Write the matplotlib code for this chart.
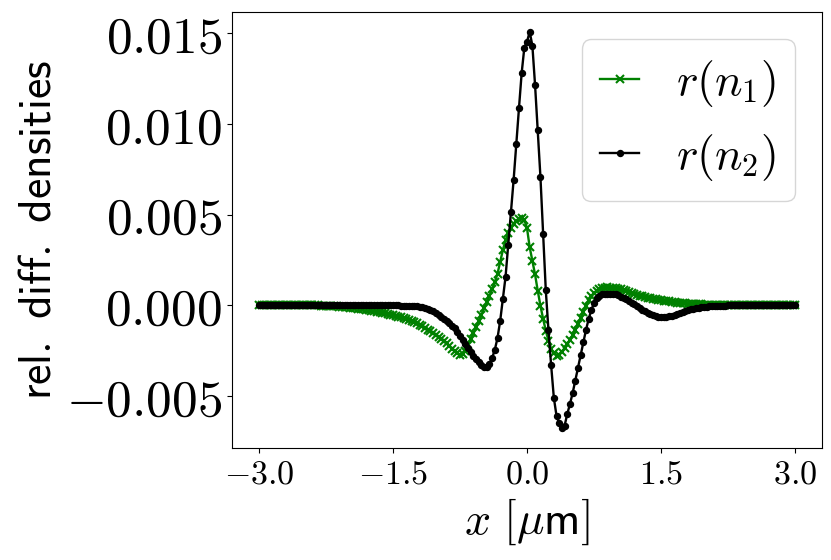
import numpy as np
import matplotlib
matplotlib.use("Agg")
import matplotlib.pyplot as plt
from matplotlib.ticker import FuncFormatter

plt.rcParams["mathtext.fontset"] = "cm"

# sample grid: 201 equally spaced points, -3 µm .. 3 µm (step 0.03 µm)
x_um = np.linspace(-3.0, 3.0, 201)

# relative density differences, in units of 1e-3
r_n1_milli = [
    0.00, 0.00, 0.00, 0.00, 0.00, 0.00, 0.00, 0.00, 0.00, 0.00,
    0.00, 0.00, 0.00, 0.00, 0.00, 0.00, 0.00, 0.00, 0.00, 0.00,
    -0.01, -0.01, -0.01, -0.02, -0.02, -0.03, -0.04, -0.05, -0.05, -0.06,
    -0.07, -0.08, -0.10, -0.11, -0.13, -0.14, -0.16, -0.18, -0.20, -0.22,
    -0.25, -0.27, -0.30, -0.32, -0.35, -0.38, -0.41, -0.44, -0.48, -0.51,
    -0.55, -0.58, -0.62, -0.66, -0.71, -0.76, -0.81, -0.87, -0.93, -1.00,
    -1.08, -1.16, -1.25, -1.34, -1.43, -1.53, -1.63, -1.74, -1.85, -1.97,
    -2.10, -2.24, -2.39, -2.53, -2.64, -2.72, -2.68, -2.50, -2.20, -1.88,
    -1.55, -1.22, -0.88, -0.52, -0.17, 0.18, 0.52, 0.88, 1.28, 1.75,
    2.40, 3.05, 3.60, 3.98, 4.28, 4.50, 4.66, 4.77, 4.84, 4.72,
    4.25, 3.20, 2.45, 1.70, 0.80, -0.02, -0.75, -1.40, -1.95, -2.40,
    -2.65, -2.78, -2.72, -2.58, -2.36, -2.16, -1.92, -1.66, -1.38, -1.05,
    -0.70, -0.36, -0.03, 0.27, 0.50, 0.68, 0.81, 0.90, 0.95, 0.98,
    0.99, 0.98, 0.96, 0.94, 0.91, 0.88, 0.84, 0.79, 0.74, 0.69,
    0.64, 0.59, 0.54, 0.50, 0.46, 0.42, 0.39, 0.36, 0.33, 0.30,
    0.28, 0.25, 0.23, 0.21, 0.19, 0.17, 0.15, 0.13, 0.12, 0.10,
    0.09, 0.08, 0.07, 0.06, 0.05, 0.05, 0.04, 0.04, 0.03, 0.03,
    0.03, 0.02, 0.02, 0.02, 0.02, 0.01, 0.01, 0.01, 0.01, 0.01,
    0.01, 0.01, 0.01, 0.01, 0.00, 0.00, 0.00, 0.00, 0.00, 0.00,
    0.00, 0.00, 0.00, 0.00, 0.00, 0.00, 0.00, 0.00, 0.00, 0.00,
    0.00,
]

r_n2_milli = [
    0.00, 0.00, 0.00, 0.00, 0.00, 0.00, 0.00, 0.00, 0.00, 0.00,
    0.00, 0.00, 0.00, 0.00, 0.00, 0.00, 0.00, 0.00, 0.00, 0.00,
    0.00, 0.00, 0.00, 0.00, 0.00, 0.00, 0.00, 0.00, 0.00, 0.00,
    0.00, 0.00, 0.00, 0.00, 0.00, 0.00, 0.00, 0.00, 0.00, 0.00,
    0.00, 0.00, 0.00, 0.00, 0.00, 0.00, 0.00, 0.00, -0.01, -0.01,
    -0.01, -0.01, -0.01, -0.02, -0.02, -0.03, -0.03, -0.04, -0.05, -0.06,
    -0.07, -0.10, -0.14, -0.19, -0.26, -0.34, -0.43, -0.52, -0.62, -0.74,
    -0.86, -0.98, -1.12, -1.28, -1.47, -1.67, -1.90, -2.12, -2.35, -2.57,
    -2.77, -2.97, -3.15, -3.32, -3.43, -3.42, -3.25, -2.90, -2.45, -1.80,
    -0.85, 0.37, 1.58, 3.35, 5.17, 6.91, 8.91, 10.88, 12.81, 14.22,
    14.55, 15.09, 14.32, 12.15, 9.67, 7.09, 3.94, 0.83, -1.39, -3.32,
    -5.10, -6.10, -6.52, -6.78, -6.65, -6.00, -5.45, -4.85, -4.15, -3.45,
    -2.75, -2.05, -1.35, -0.75, -0.25, 0.12, 0.38, 0.53, 0.60, 0.63,
    0.65, 0.65, 0.63, 0.60, 0.55, 0.48, 0.40, 0.32, 0.23, 0.14,
    0.05, -0.04, -0.14, -0.24, -0.33, -0.41, -0.48, -0.54, -0.59, -0.62,
    -0.64, -0.64, -0.63, -0.61, -0.57, -0.52, -0.47, -0.42, -0.37, -0.32,
    -0.27, -0.23, -0.19, -0.16, -0.13, -0.11, -0.09, -0.07, -0.06, -0.05,
    -0.04, -0.03, -0.03, -0.02, -0.02, -0.01, -0.01, -0.01, -0.01, -0.01,
    0.00, 0.00, 0.00, 0.00, 0.00, 0.00, 0.00, 0.00, 0.00, 0.00,
    0.00, 0.00, 0.00, 0.00, 0.00, 0.00, 0.00, 0.00, 0.00, 0.00,
    0.00,
]

x_ticks = [-3.0, -1.5, 0.0, 1.5, 3.0]
y_ticks = [-0.005, 0.0, 0.005, 0.010, 0.015]

r_n1 = np.array(r_n1_milli) * 1e-3
r_n2 = np.array(r_n2_milli) * 1e-3

fig = plt.figure(figsize=(8.31, 5.6), dpi=100)
ax = fig.add_axes([0.2792, 0.2, 0.71, 0.7786])

ax.plot(x_um, r_n1, color="green", marker="x", ms=6, mew=1.5, lw=1.7,
        label=r"$r(n_1)$")
ax.plot(x_um, r_n2, color="black", marker="o", ms=4.3, lw=1.7,
        label=r"$r(n_2)$")

ax.set_xticks(x_ticks)
ax.set_yticks(y_ticks)
ax.xaxis.set_major_formatter(FuncFormatter(lambda v, pos: f"${v:.1f}$"))
ax.yaxis.set_major_formatter(FuncFormatter(lambda v, pos: f"${v:.3f}$"))
ax.tick_params(axis="x", labelsize=24.5)
ax.tick_params(axis="y", labelsize=37)

ax.set_xlabel(r"$x\ [\mu\mathsf{m}]$", fontsize=33)
ax.set_ylabel(r"$\mathsf{rel.\ diff.\ densities}$", fontsize=33)

ax.legend(loc="upper right", fontsize=33, handlelength=0.85,
          borderaxespad=0.6)

fig.savefig("out.png", dpi=100)
